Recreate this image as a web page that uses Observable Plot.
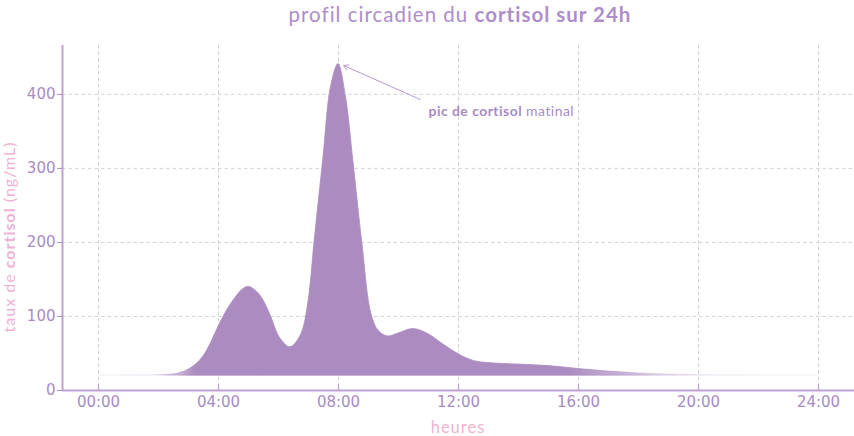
<!DOCTYPE html>
<html>
<head>
<meta charset="utf-8">
<script src="https://cdn.jsdelivr.net/npm/d3@7"></script>
<script src="https://cdn.jsdelivr.net/npm/@observablehq/plot@0.6"></script>
<style>
  html, body { margin: 0; padding: 0; background: #fff; }
  #chart svg { display: block; }
</style>
</head>
<body>
<div id="chart"></div>
<script>
// ---- data ----
const hours = [0, 1, 2, 2.5, 2.75, 3, 3.25, 3.5, 3.75, 4, 4.3, 4.6, 4.8, 5, 5.2, 5.45, 5.75, 6.05, 6.4, 6.75, 7, 7.2, 7.5, 7.75, 8, 8.25, 8.5, 8.8, 9.1, 9.35, 9.65, 10, 10.5, 11, 11.5, 12, 12.5, 13, 14, 15, 16, 17, 18, 19, 20, 22, 24];
const cortisol = [20.6, 20.6, 21, 21.8, 24, 28, 35, 46, 64, 86, 109, 127, 136, 140, 136, 125, 100, 71, 58.5, 75, 120, 200, 315, 410, 441, 396, 308, 197, 103, 80, 73, 77, 83, 76, 62, 49, 40, 37, 35, 33, 29, 25.5, 23, 21.5, 20.8, 20.6, 20.6];
const baseline = 20;
const xTicks = [0, 4, 8, 12, 16, 20, 24];
const yTicks = [0, 100, 200, 300, 400];
const titleParts = [["profil circadien du ", 400], ["cortisol sur 24h", 700]];
const yLabelParts = [["taux de ", 400], ["cortisol", 700], [" (ng/mL)", 400]];
const xLabel = "heures";
const annotParts = [["pic de cortisol", 700], [" matinal", 400]];
const arrowFrom = {x: 10.73, y: 393};
const arrowTo = {x: 8.17, y: 439};
const annotPos = {x: 11.0, y: 383};

const data = hours.map((h, i) => ({h, v: cortisol[i], b: baseline}));

const purple = "#ab8bc0";
const axisPurple = "#a98bc4";
const pink = "#f0b2d3";
const lineCol = "#bfa0d2";
const gridCol = "#d2d2d2";
const font = "Lato, 'Noto Sans', sans-serif";

const chart = Plot.plot({
  width: 854,
  height: 436,
  marginTop: 45,
  marginBottom: 46,
  marginLeft: 62,
  marginRight: 0,
  style: {fontFamily: "DejaVu Sans", fontSize: "15px", background: "#fff", overflow: "visible"},
  x: {domain: [-1.2, 25.2]},
  y: {domain: [0, 466]},
  marks: [
    Plot.gridX(xTicks, {stroke: gridCol, strokeOpacity: 1, strokeDasharray: "3.5,3"}),
    Plot.gridY(yTicks, {stroke: gridCol, strokeOpacity: 1, strokeDasharray: "3.5,3"}),
    Plot.areaY(data, {x: "h", y1: "b", y2: "v", curve: "catmull-rom", fill: "url(#cortGrad)", stroke: "url(#cortGrad)", strokeWidth: 0.8}),
    Plot.ruleX([-1.2], {stroke: lineCol, strokeWidth: 2}),
    Plot.ruleY([0], {stroke: lineCol, strokeWidth: 2}),
    Plot.ruleX(xTicks, {y1: 0, y2: 8, stroke: lineCol, strokeWidth: 1.2}),
    Plot.axisY(yTicks, {color: axisPurple, tickSize: 5, tickPadding: 2, label: null, fontSize: 15}),
    Plot.axisX(xTicks, {color: axisPurple, tickSize: 0, tickPadding: 6, label: null, fontSize: 15,
      tickFormat: d => String(d).padStart(2, "0") + ":00"}),
    Plot.arrow([{x1: arrowFrom.x, y1: arrowFrom.y, x2: arrowTo.x, y2: arrowTo.y}],
      {x1: "x1", y1: "y1", x2: "x2", y2: "y2", stroke: "#b49bd0", strokeWidth: 1, headLength: 8, bend: false}),
    Plot.text([annotPos], {x: "x", y: "y", text: () => "annot", textAnchor: "start", className: "annot-text"})
  ]
});

const svg = d3.select(chart);

// gradient definition for the fading area fill
const defs = svg.insert("defs", ":first-child");
const grad = defs.append("linearGradient").attr("id", "cortGrad")
  .attr("x1", "0").attr("x2", "1").attr("y1", "0").attr("y2", "0");
[[0, 0.08], [0.08, 0.15], [0.11, 0.6], [0.135, 1], [0.65, 1], [0.72, 0.7], [0.79, 0.3], [0.85, 0.12], [1, 0.08]]
  .forEach(([o, a]) => grad.append("stop").attr("offset", o).attr("stop-color", purple).attr("stop-opacity", a));

// rich annotation text
const ann = svg.select(".annot-text text");
ann.text(null)
  .attr("font-family", font)
  .attr("font-size", 14)
  .attr("letter-spacing", "0.45px")
  .attr("fill", axisPurple)
  .attr("dy", "0.32em");
annotParts.forEach(([t, w]) => ann.append("tspan").attr("font-weight", w).text(t));

// title
const title = svg.append("text")
  .attr("x", 460).attr("y", 22)
  .attr("text-anchor", "middle")
  .attr("font-family", font)
  .attr("font-size", 20.5)
  .attr("letter-spacing", "1px")
  .attr("fill", "#ae8dcb");
titleParts.forEach(([t, w]) => title.append("tspan").attr("font-weight", w).text(t));

// y label
const yl = svg.append("text")
  .attr("transform", "translate(15,237) rotate(-90)")
  .attr("text-anchor", "middle")
  .attr("font-family", font)
  .attr("font-size", 16)
  .attr("letter-spacing", "1px")
  .attr("fill", pink);
yLabelParts.forEach(([t, w]) => yl.append("tspan").attr("font-weight", w).text(t));

// x label
svg.append("text")
  .attr("x", 458).attr("y", 433)
  .attr("text-anchor", "middle")
  .attr("font-family", font)
  .attr("font-size", 16.5)
  .attr("letter-spacing", "1px")
  .attr("fill", pink)
  .text(xLabel);

document.getElementById("chart").appendChild(chart);
</script>
</body>
</html>
